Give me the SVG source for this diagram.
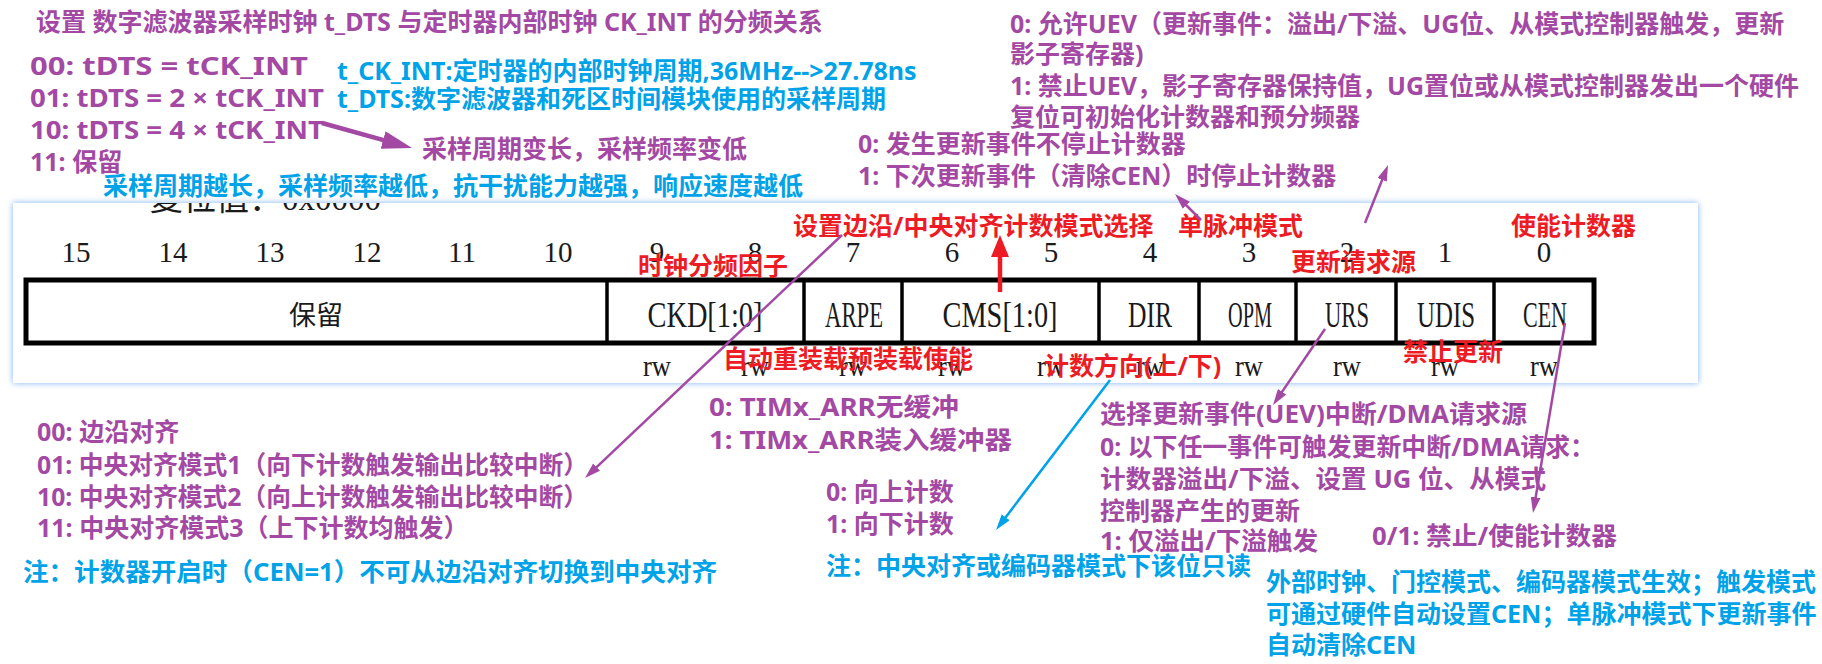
<svg xmlns="http://www.w3.org/2000/svg" width="1822" height="664" viewBox="0 0 1822 664">
<defs>
<style>
.t{font-family:"Noto Sans","Noto Sans CJK SC",sans-serif;font-weight:700;font-size:25px}
.p{fill:#A349A4}
.b{fill:#00A2E8}
.r{fill:#ED1C24}
.rg{font-family:"Liberation Serif",serif;fill:#1a1a1a}
.num{font-size:29px;text-anchor:middle}
.fld{font-size:36px;text-anchor:middle}
.rw{font-size:30px;text-anchor:middle}
.cell{fill:none;stroke:#000;stroke-width:3.5}
.ln{fill:none;stroke-linecap:butt}
</style>
<filter id="glow" x="-5%" y="-10%" width="110%" height="120%">
<feDropShadow dx="0" dy="0" stdDeviation="3" flood-color="#6FA8EE" flood-opacity="0.9"/>
</filter>
<clipPath id="panelClip"><rect x="13" y="203" width="1685" height="180"/></clipPath>
<marker id="ahP" markerUnits="userSpaceOnUse" markerWidth="16" markerHeight="10" viewBox="0 0 16 10" refX="4" refY="5" orient="auto"><path d="M0,0 L16,5 L0,10 z" fill="#A349A4"/></marker>
<marker id="ahB" markerUnits="userSpaceOnUse" markerWidth="16" markerHeight="10" viewBox="0 0 16 10" refX="4" refY="5" orient="auto"><path d="M0,0 L16,5 L0,10 z" fill="#00A2E8"/></marker>
<marker id="ahPbig" markerUnits="userSpaceOnUse" markerWidth="30" markerHeight="18" viewBox="0 0 30 18" refX="6" refY="9" orient="auto"><path d="M0,0 L30,9 L0,18 z" fill="#A349A4"/></marker>
<marker id="ahR" markerUnits="userSpaceOnUse" markerWidth="22" markerHeight="18" viewBox="0 0 22 18" refX="5" refY="9" orient="auto"><path d="M0,0 L22,9 L0,18 z" fill="#ED1C24"/></marker>
</defs>
<rect width="1822" height="664" fill="#fff"/>

<g id="register-panel">
<rect x="13" y="203" width="1685" height="180" fill="#fff" filter="url(#glow)"/>
<g clip-path="url(#panelClip)">
<text class="rg" x="150" y="210" font-size="33"><tspan font-family="Noto Sans CJK SC, sans-serif">复位值：</tspan>0x0000</text>
</g>
<g id="bit-numbers" class="rg num">
<text x="76" y="262">15</text><text x="173" y="262">14</text><text x="270" y="262">13</text><text x="367" y="262">12</text><text x="462" y="262">11</text><text x="558" y="262">10</text><text x="657" y="262">9</text><text x="755" y="262">8</text><text x="853" y="262">7</text><text x="952" y="262">6</text><text x="1051" y="262">5</text><text x="1150" y="262">4</text><text x="1249" y="262">3</text><text x="1347" y="262">2</text><text x="1445" y="262">1</text><text x="1544" y="262">0</text>
</g>
<rect x="26" y="280" width="1568" height="63" fill="none" stroke="#000" stroke-width="5"/>
<g id="cell-reserved"><text x="316" y="325" font-family="Noto Sans CJK SC, sans-serif" font-size="27" text-anchor="middle" fill="#1a1a1a">保留</text></g>
<g id="cell-ckd"><line class="cell" x1="607" y1="280" x2="607" y2="343"/><text class="rg fld" x="705" y="327" textLength="115" lengthAdjust="spacingAndGlyphs">CKD[1:0]</text></g>
<g id="cell-arpe"><line class="cell" x1="804" y1="280" x2="804" y2="343"/><text class="rg fld" x="854" y="327" textLength="58" lengthAdjust="spacingAndGlyphs">ARPE</text></g>
<g id="cell-cms"><line class="cell" x1="902" y1="280" x2="902" y2="343"/><text class="rg fld" x="1000" y="327" textLength="115" lengthAdjust="spacingAndGlyphs">CMS[1:0]</text></g>
<g id="cell-dir"><line class="cell" x1="1099" y1="280" x2="1099" y2="343"/><text class="rg fld" x="1150" y="327" textLength="44" lengthAdjust="spacingAndGlyphs">DIR</text></g>
<g id="cell-opm"><line class="cell" x1="1199" y1="280" x2="1199" y2="343"/><text class="rg fld" x="1250" y="327" textLength="44" lengthAdjust="spacingAndGlyphs">OPM</text></g>
<g id="cell-urs"><line class="cell" x1="1296" y1="280" x2="1296" y2="343"/><text class="rg fld" x="1347" y="327" textLength="44" lengthAdjust="spacingAndGlyphs">URS</text></g>
<g id="cell-udis"><line class="cell" x1="1396" y1="280" x2="1396" y2="343"/><text class="rg fld" x="1446" y="327" textLength="58" lengthAdjust="spacingAndGlyphs">UDIS</text></g>
<g id="cell-cen"><line class="cell" x1="1494" y1="280" x2="1494" y2="343"/><text class="rg fld" x="1545" y="327" textLength="44" lengthAdjust="spacingAndGlyphs">CEN</text></g>
<g id="access" class="rg rw">
<text x="657" y="376" textLength="28" lengthAdjust="spacingAndGlyphs">rw</text><text x="755" y="376" textLength="28" lengthAdjust="spacingAndGlyphs">rw</text><text x="853" y="376" textLength="28" lengthAdjust="spacingAndGlyphs">rw</text><text x="952" y="376" textLength="28" lengthAdjust="spacingAndGlyphs">rw</text><text x="1051" y="376" textLength="28" lengthAdjust="spacingAndGlyphs">rw</text><text x="1150" y="376" textLength="28" lengthAdjust="spacingAndGlyphs">rw</text><text x="1249" y="376" textLength="28" lengthAdjust="spacingAndGlyphs">rw</text><text x="1347" y="376" textLength="28" lengthAdjust="spacingAndGlyphs">rw</text><text x="1445" y="376" textLength="28" lengthAdjust="spacingAndGlyphs">rw</text><text x="1544" y="376" textLength="28" lengthAdjust="spacingAndGlyphs">rw</text>
</g>
</g>

<g id="title"><text class="t p" x="36" y="31" font-size="26.5">设置 数字滤波器采样时钟 t_DTS 与定时器内部时钟 CK_INT 的分频关系</text></g>
<g id="ckd-values" class="t p" font-size="26.5">
<text x="30" y="75" textLength="278" lengthAdjust="spacingAndGlyphs">00: tDTS = tCK_INT</text>
<text x="30" y="107" textLength="294" lengthAdjust="spacingAndGlyphs">01: tDTS = 2 × tCK_INT</text>
<text x="30" y="139" textLength="294" lengthAdjust="spacingAndGlyphs">10: tDTS = 4 × tCK_INT</text>
<text x="30" y="171">11: 保留</text>
</g>
<g id="clock-defs" class="t b" font-size="22">
<text x="337" y="80">t_CK_INT:定时器的内部时钟周期,36MHz--&gt;27.78ns</text>
<text x="337" y="108">t_DTS:数字滤波器和死区时间模块使用的采样周期</text>
</g>
<g id="period-note"><text class="t p" x="422" y="158" font-size="22">采样周期变长，采样频率变低</text></g>
<g id="period-effect"><text class="t b" x="103" y="195" font-size="25.5">采样周期越长，采样频率越低，抗干扰能力越强，响应速度越低</text></g>

<g id="udis-desc" class="t p">
<text x="1010" y="33">0: 允许UEV（更新事件：溢出/下溢、UG位、从模式控制器触发，更新</text>
<text x="1010" y="63">影子寄存器)</text>
<text x="1010" y="95">1: 禁止UEV，影子寄存器保持值，UG置位或从模式控制器发出一个硬件</text>
<text x="1010" y="126">复位可初始化计数器和预分频器</text>
</g>
<g id="opm-desc" class="t p">
<text x="858" y="153">0: 发生更新事件不停止计数器</text>
<text x="858" y="185">1: 下次更新事件（清除CEN）时停止计数器</text>
</g>

<g id="label-cms"><text class="t r" x="793" y="235" font-size="25.5">设置边沿/中央对齐计数模式选择</text></g>
<g id="label-opm"><text class="t r" x="1178" y="235" font-size="25.5">单脉冲模式</text></g>
<g id="label-cen"><text class="t r" x="1511" y="235" font-size="25.5">使能计数器</text></g>
<g id="label-ckd"><text class="t r" x="638" y="275" font-size="25.5">时钟分频因子</text></g>
<g id="label-urs"><text class="t r" x="1291" y="271" font-size="25.5">更新请求源</text></g>
<g id="label-arpe"><text class="t r" x="723" y="368" font-size="25.5">自动重装载预装载使能</text></g>
<g id="label-dir"><text class="t r" x="1044" y="375" font-size="28">计数方向(上/下)</text></g>
<g id="label-udis"><text class="t r" x="1403" y="361" font-size="25.5">禁止更新</text></g>

<g id="arpe-desc" class="t p">
<text x="709" y="416" textLength="250" lengthAdjust="spacingAndGlyphs">0: TIMx_ARR无缓冲</text>
<text x="709" y="449" textLength="303" lengthAdjust="spacingAndGlyphs">1: TIMx_ARR装入缓冲器</text>
</g>
<g id="dir-desc" class="t p">
<text x="826" y="501">0: 向上计数</text>
<text x="826" y="533">1: 向下计数</text>
</g>
<g id="dir-note"><text class="t b" x="826" y="575">注：中央对齐或编码器模式下该位只读</text></g>
<g id="urs-desc" class="t p">
<text x="1100" y="423" textLength="427" lengthAdjust="spacingAndGlyphs">选择更新事件(UEV)中断/DMA请求源</text>
<text x="1100" y="456" textLength="495" lengthAdjust="spacingAndGlyphs">0: 以下任一事件可触发更新中断/DMA请求：</text>
<text x="1100" y="488" textLength="446" lengthAdjust="spacingAndGlyphs">计数器溢出/下溢、设置 UG 位、从模式</text>
<text x="1100" y="520">控制器产生的更新</text>
<text x="1100" y="550" textLength="218" lengthAdjust="spacingAndGlyphs">1: 仅溢出/下溢触发</text>
</g>
<g id="cen-desc"><text class="t p" x="1372" y="545" textLength="245" lengthAdjust="spacingAndGlyphs">0/1: 禁止/使能计数器</text></g>
<g id="cen-note" class="t b">
<text x="1266" y="591">外部时钟、门控模式、编码器模式生效；触发模式</text>
<text x="1266" y="623">可通过硬件自动设置CEN；单脉冲模式下更新事件</text>
<text x="1266" y="654">自动清除CEN</text>
</g>
<g id="cms-desc" class="t p">
<text x="37" y="441">00: 边沿对齐</text>
<text x="37" y="474" textLength="551" lengthAdjust="spacingAndGlyphs">01: 中央对齐模式1（向下计数触发输出比较中断）</text>
<text x="37" y="506" textLength="551" lengthAdjust="spacingAndGlyphs">10: 中央对齐模式2（向上计数触发输出比较中断）</text>
<text x="37" y="537">11: 中央对齐模式3（上下计数均触发）</text>
</g>
<g id="cms-note"><text class="t b" x="23" y="581" textLength="694" lengthAdjust="spacingAndGlyphs">注：计数器开启时（CEN=1）不可从边沿对齐切换到中央对齐</text></g>

<g id="connectors" class="ln">
<line x1="322" y1="123" x2="388.9" y2="141.6" stroke="#A349A4" stroke-width="4.5" marker-end="url(#ahPbig)"/>
<line x1="1000" y1="292" x2="1000" y2="252" stroke="#ED1C24" stroke-width="4.5" marker-end="url(#ahR)"/>
<line x1="842" y1="235" x2="593.7" y2="469.8" stroke="#A349A4" stroke-width="2.5" marker-end="url(#ahP)"/>
<line x1="1201" y1="220" x2="1183.5" y2="202.5" stroke="#A349A4" stroke-width="2.5" marker-end="url(#ahP)"/>
<line x1="1365" y1="223" x2="1383.6" y2="176.2" stroke="#A349A4" stroke-width="2.5" marker-end="url(#ahP)"/>
<line x1="1110" y1="380" x2="1003.3" y2="520.4" stroke="#00A2E8" stroke-width="2.5" marker-end="url(#ahB)"/>
<line x1="1325" y1="329" x2="1279.8" y2="395.1" stroke="#A349A4" stroke-width="2.5" marker-end="url(#ahP)"/>
<line x1="1565" y1="323" x2="1535" y2="501.2" stroke="#A349A4" stroke-width="2.5" marker-end="url(#ahP)"/>
</g>
</svg>
